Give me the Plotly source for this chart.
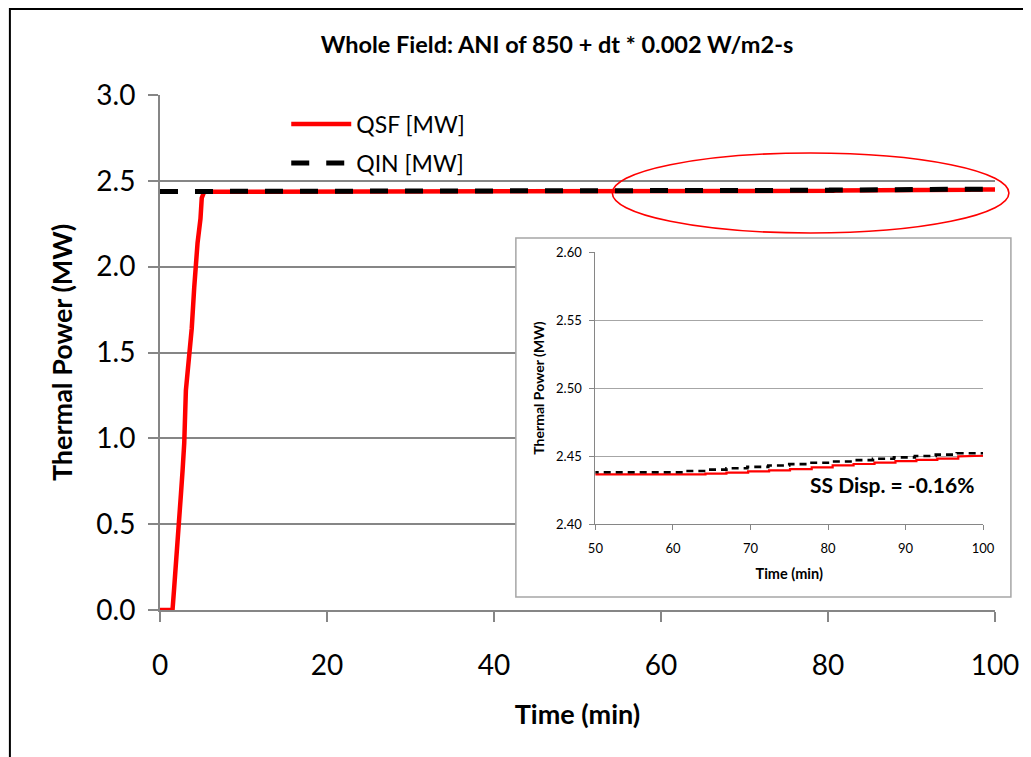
import plotly.graph_objects as go

# ---------------- data ----------------
qsf_time = [0.0, 1.5, 1.7, 2.0, 2.3, 2.5, 2.7, 2.9, 3.1, 3.5, 3.8, 4.1, 4.5, 4.85, 5.0, 5.3,
            64.2, 64.2, 66.9, 66.9, 69.7, 69.7, 72.4, 72.4, 75.1, 75.1, 77.9, 77.9,
            80.6, 80.6, 83.3, 83.3, 86.0, 86.0, 88.7, 88.7, 91.4, 91.4, 94.1, 94.1,
            96.8, 96.8, 100.0]
qsf_power = [0.0, 0.0, 0.13, 0.31, 0.47, 0.67, 0.81, 0.97, 1.28, 1.48, 1.64, 1.88, 2.14, 2.28, 2.40, 2.4365,
             2.4365, 2.4370, 2.4370, 2.4378, 2.4378, 2.4387, 2.4387, 2.4395, 2.4395, 2.4404, 2.4404, 2.4416,
             2.4416, 2.4431, 2.4431, 2.4441, 2.4441, 2.4452, 2.4452, 2.4462, 2.4462, 2.4471, 2.4471, 2.4481,
             2.4481, 2.4497, 2.4502]

qin_time = [0.0, 61.5, 61.5, 64.2, 64.2, 66.9, 66.9, 69.6, 69.6, 72.3, 72.3, 75.0, 75.0,
            77.7, 77.7, 80.4, 80.4, 83.1, 83.1, 85.8, 85.8, 88.5, 88.5, 91.2, 91.2,
            93.9, 93.9, 96.6, 96.6, 100.0]
qin_power = [2.4380, 2.4380, 2.4390, 2.4390, 2.4400, 2.4400, 2.4410, 2.4410, 2.4420, 2.4420, 2.4430, 2.4430, 2.4440,
             2.4440, 2.4450, 2.4450, 2.4460, 2.4460, 2.4470, 2.4470, 2.4480, 2.4480, 2.4490, 2.4490, 2.4500,
             2.4500, 2.4510, 2.4510, 2.4520, 2.4520]

title_text = "Whole Field: ANI of 850 + dt * 0.002 W/m2-s"
series_names = ["QSF [MW]", "QIN [MW]"]
main_x_ticks = [0, 20, 40, 60, 80, 100]
main_y_ticks = [0.0, 0.5, 1.0, 1.5, 2.0, 2.5, 3.0]
inset_x_ticks = [50, 60, 70, 80, 90, 100]
inset_y_ticks = [2.40, 2.45, 2.50, 2.55, 2.60]
ss_disp_label = "SS Disp. = -0.16%"

FONT = "Lato, 'Open Sans', sans-serif"
GREY = "#868686"

# figure pixel geometry (page is offset by the 8px body margin)
W, H = 1023, 749
PL, PR, PT, PB = 152, 31, 87, 147          # plot area 840 x 515
PW, PH = W - PL - PR, H - PT - PB


def px(xp):   # page x pixel -> paper fraction
    return (xp - 8 - PL) / PW


def py(yp):   # page y pixel -> paper fraction
    return (H - PB - (yp - 8)) / PH


fig = go.Figure()

# main chart traces
fig.add_trace(go.Scatter(x=qsf_time, y=qsf_power, mode="lines", name=series_names[0],
                         line=dict(color="#ff0000", width=4.5), xaxis="x", yaxis="y",
                         legend="legend"))
fig.add_trace(go.Scatter(x=qin_time, y=qin_power, mode="lines", name=series_names[1],
                         line=dict(color="#000000", width=5, dash="18px,17px"), xaxis="x", yaxis="y",
                         legend="legend2"))
# inset traces
fig.add_trace(go.Scatter(x=qsf_time, y=qsf_power, mode="lines", name=series_names[0],
                         line=dict(color="#ff0000", width=2.2), xaxis="x2", yaxis="y2",
                         showlegend=False))
fig.add_trace(go.Scatter(x=qin_time, y=qin_power, mode="lines", name=series_names[1],
                         line=dict(color="#000000", width=2.6, dash="7px,5px"), xaxis="x2", yaxis="y2",
                         showlegend=False))

fig.update_layout(
    width=W, height=H,
    margin=dict(l=PL, r=PR, t=PT, b=PB),
    paper_bgcolor="white", plot_bgcolor="rgba(0,0,0,0)",
    font=dict(family=FONT, color="black"),
    title=dict(text=f"<b>{title_text}</b>", x=(557 - 8) / W, xanchor="center",
               y=1 - (45 - 8) / H, yanchor="middle", font=dict(size=23.5, family=FONT, color="black")),
    xaxis=dict(domain=[0, 1], range=[0, 100], tickvals=main_x_ticks, showgrid=False, zeroline=False,
               showline=True, linecolor=GREY, linewidth=2, ticks="outside", ticklen=10,
               tickcolor=GREY, tickwidth=1.5, tickfont=dict(size=28, family=FONT),
               ticklabelstandoff=19,
               title=dict(text="<b>Time (min)</b>", font=dict(size=27, family=FONT), standoff=26)),
    yaxis=dict(domain=[0, 1], range=[0, 3], tickvals=main_y_ticks, tickformat=".1f",
               showgrid=True, gridcolor=GREY, gridwidth=1.5, zeroline=False,
               showline=True, linecolor=GREY, linewidth=2, ticks="outside", ticklen=10,
               tickcolor=GREY, tickwidth=1.5, tickfont=dict(size=28, family=FONT),
               ticklabelstandoff=7,
               title=dict(text="<b>Thermal Power (MW)</b>", font=dict(size=27, family=FONT), standoff=16)),
    xaxis2=dict(domain=[px(598), px(988)], anchor="y2", range=[50, 100], tickvals=inset_x_ticks,
                showgrid=False, zeroline=False, showline=True, linecolor=GREY, linewidth=1,
                ticks="outside", ticklen=5, tickcolor=GREY, tickfont=dict(size=13, family=FONT),
                ticklabelstandoff=7,
                title=dict(text="<b>Time (min)</b>", font=dict(size=14.5, family=FONT), standoff=14)),
    yaxis2=dict(domain=[py(524), py(252)], anchor="x2", range=[2.40, 2.60], tickvals=inset_y_ticks,
                tickformat=".2f", showgrid=True, gridcolor="#a6a6a6", gridwidth=1, zeroline=False,
                showline=True, linecolor=GREY, linewidth=1, ticks="outside", ticklen=5,
                tickcolor=GREY, tickfont=dict(size=13, family=FONT), ticklabelstandoff=5,
                title=dict(text="<b>Thermal Power (MW)</b>", font=dict(size=14, family=FONT), standoff=8)),
    legend=dict(x=px(287), y=py(124), xanchor="left", yanchor="middle",
                bgcolor="rgba(0,0,0,0)", font=dict(size=23, family=FONT), itemwidth=60),
    legend2=dict(x=px(287), y=py(163), xanchor="left", yanchor="middle",
                 bgcolor="rgba(0,0,0,0)", font=dict(size=23, family=FONT), itemwidth=60),
    showlegend=True,
)

# white inset panel covering the main gridlines (drawn between main grid and traces)
fig.add_shape(type="rect", xref="x", yref="y",
              x0=px(518) * 100, x1=px(1016) * 100, y0=py(597) * 3, y1=py(238) * 3,
              fillcolor="white", line=dict(width=0), layer="between")
# inset panel border
fig.add_shape(type="rect", xref="paper", yref="paper",
              x0=px(518), x1=px(1016), y0=py(597), y1=py(238),
              fillcolor="rgba(0,0,0,0)", line=dict(color="#a6a6a6", width=1.5), layer="above")
# red highlight ellipse
fig.add_shape(type="circle", xref="paper", yref="paper",
              x0=px(615), x1=px(1014), y0=py(233), y1=py(153),
              fillcolor="rgba(0,0,0,0)", line=dict(color="#ff0000", width=1.6), layer="above")
# outer chart border (left & top visible)
fig.add_shape(type="rect", xref="paper", yref="paper",
              x0=px(9), x1=px(1100), y0=py(800), y1=py(9),
              fillcolor="rgba(0,0,0,0)", line=dict(color="#000000", width=2), layer="above")

fig.add_annotation(text=f"<b>{ss_disp_label}</b>", xref="x2", yref="y2", x=88.3, y=2.4287,
                   showarrow=False, font=dict(size=21, family=FONT, color="black"))

fig.write_html("out.html")
